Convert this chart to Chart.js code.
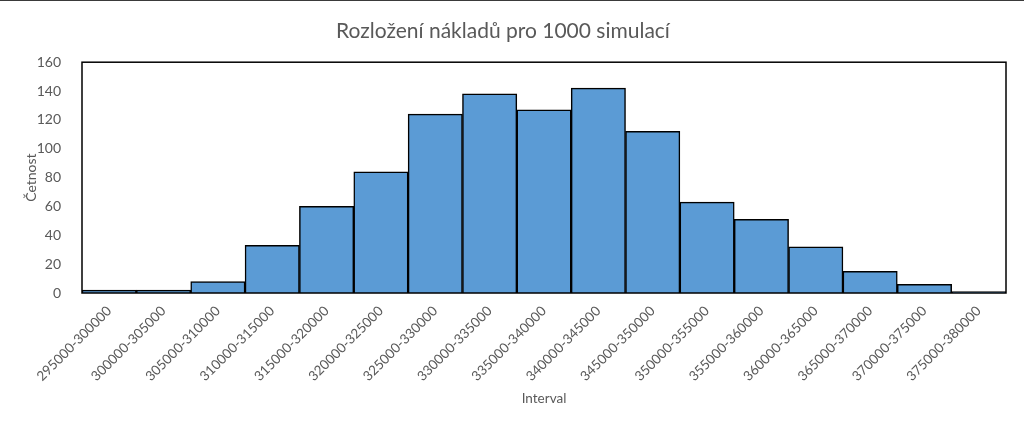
<!DOCTYPE html>
<html>
<head>
<meta charset="utf-8">
<script src="https://cdn.jsdelivr.net/npm/chart.js@4"></script>
<style>
html,body{margin:0;padding:0;background:#fff;}
#wrap{position:relative;width:1024px;height:427px;box-sizing:border-box;border-top:1px solid #3a3a3a;}
canvas{display:block;}
</style>
</head>
<body>
<div id="wrap"><canvas id="c" width="1024" height="426"></canvas></div>
<script>
const chartTitle = "Rozložení nákladů pro 1000 simulací";
const xTitle = "Interval";
const yTitle = "Četnost";
const categories = ["295000-300000","300000-305000","305000-310000","310000-315000","315000-320000","320000-325000","325000-330000","330000-335000","335000-340000","340000-345000","345000-350000","350000-355000","355000-360000","360000-365000","365000-370000","370000-375000","375000-380000"];
const counts = [2,2,8,33,60,84,124,138,127,142,112,63,51,32,15,6,1];
const yMin = 0, yMax = 160, yStep = 20;

const FONT = "Lato, 'Open Sans', sans-serif";
const GRAY = "#595959";

const frame = {
  id: 'frame',
  afterDatasetsDraw(chart){
    const a = chart.chartArea, ctx = chart.ctx;
    ctx.save();
    ctx.strokeStyle = '#000';
    ctx.lineWidth = 1.5;
    ctx.strokeRect(a.left, a.top, a.right - a.left, a.bottom - a.top);
    ctx.restore();
  }
};

new Chart(document.getElementById('c'), {
  type: 'bar',
  data: {
    labels: categories,
    datasets: [{
      data: counts,
      backgroundColor: '#5B9BD5',
      borderColor: '#000',
      borderWidth: 1.5,
      barPercentage: 1,
      categoryPercentage: 1
    }]
  },
  plugins: [frame],
  options: {
    responsive: false,
    animation: false,
    devicePixelRatio: 1,
    layout: { padding: { left: 0, right: 18, top: 0, bottom: 0 } },
    plugins: {
      legend: { display: false },
      tooltip: { enabled: false },
      title: {
        display: true,
        text: chartTitle,
        color: GRAY,
        font: { family: FONT, size: 21, weight: 'normal' },
        padding: { top: 18, bottom: 18 }
      }
    },
    scales: {
      x: {
        grid: { display: false },
        border: { display: false },
        ticks: {
          color: GRAY,
          font: { family: FONT, size: 13.5 },
          maxRotation: 45, minRotation: 45,
          autoSkip: false,
          padding: 2
        },
        title: {
          display: true, text: xTitle, color: GRAY,
          font: { family: FONT, size: 13.5 },
          padding: { top: 0, bottom: 20 }
        },
        afterFit(scale){ scale.height = 134; }
      },
      y: {
        min: yMin, max: yMax,
        grid: { display: false },
        border: { display: false },
        ticks: {
          stepSize: yStep,
          color: GRAY,
          font: { family: FONT, size: 14 },
          padding: 13
        },
        title: {
          display: true, text: yTitle, color: GRAY,
          font: { family: FONT, size: 14 },
          padding: { top: 23, bottom: 0 }
        },
        afterFit(scale){ scale.width = 82; }
      }
    }
  }
});
</script>
</body>
</html>
